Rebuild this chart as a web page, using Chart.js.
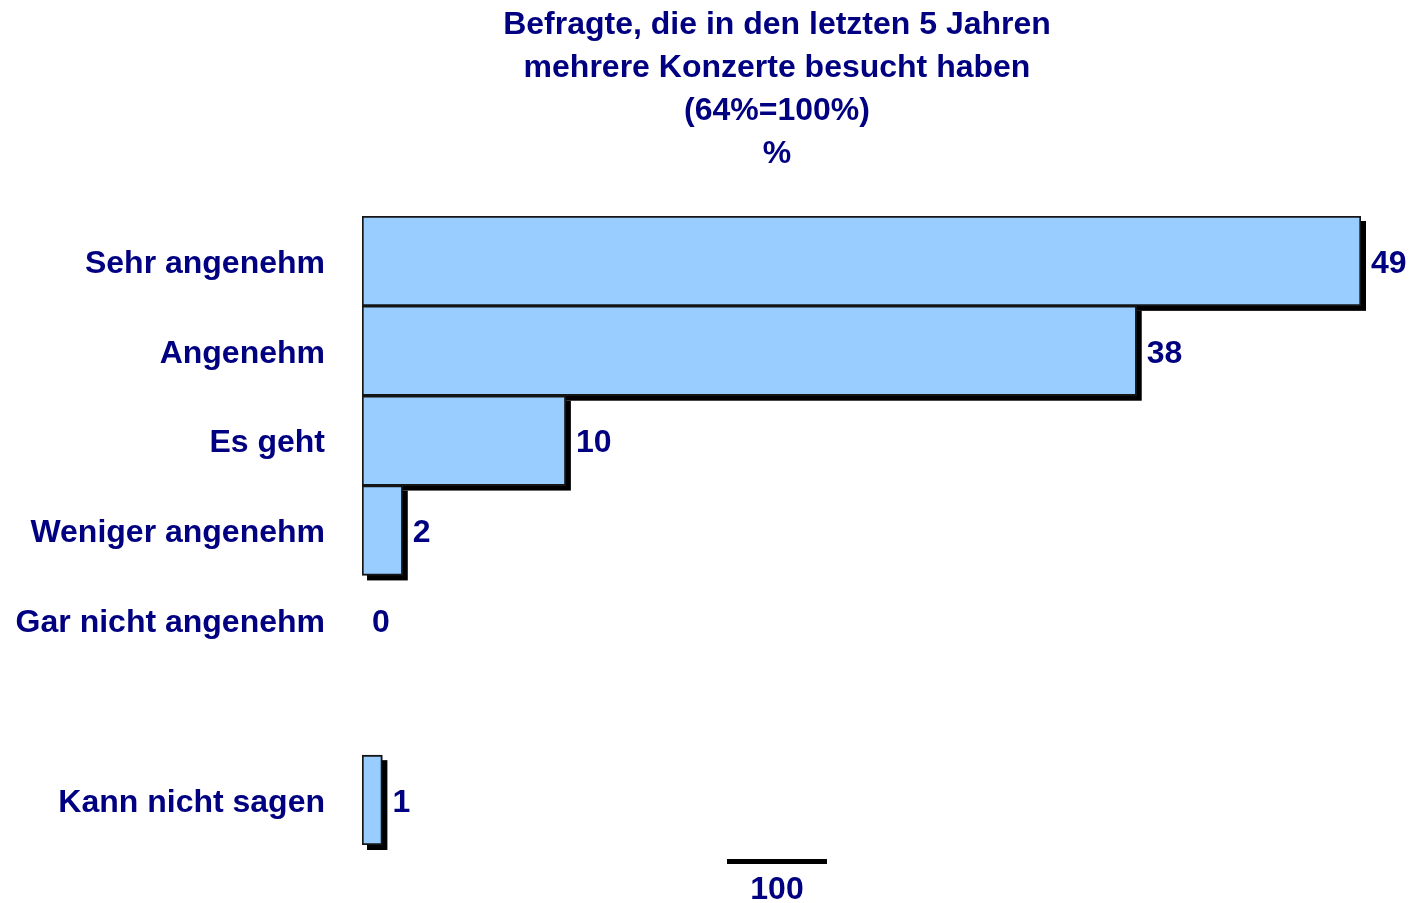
<!DOCTYPE html>
<html>
<head>
<meta charset="utf-8">
<script src="https://cdn.jsdelivr.net/npm/chart.js@4.4.1/dist/chart.umd.min.js"></script>
<style>
  html, body { margin: 0; padding: 0; background: #ffffff; }
  #wrap { width: 1414px; height: 903px; }
</style>
</head>
<body>
<div id="wrap"><canvas id="chart" width="1414" height="903"></canvas></div>
<script>
// Survey answers (percent), blank row separates "Kann nicht sagen"
const categories = ['Sehr angenehm', 'Angenehm', 'Es geht', 'Weniger angenehm', 'Gar nicht angenehm', '', 'Kann nicht sagen'];
const values = [49, 38, 10, 2, 0, null, 1];
const titleLines = ['Befragte, die in den letzten 5 Jahren', 'mehrere Konzerte besucht haben', '(64%=100%)', '%'];
const baseLabel = '100';

const NAVY = '#000080';
const FONT = '"Liberation Sans", Arial, sans-serif';

// Black drop shadow behind every bar, offset down and to the right
const shadowPlugin = {
  id: 'barShadow',
  beforeDatasetsDraw(chart) {
    const ctx = chart.ctx;
    const meta = chart.getDatasetMeta(0);
    ctx.save();
    ctx.fillStyle = '#000000';
    meta.data.forEach((bar, i) => {
      const v = values[i];
      if (v === null || v === 0) return;
      const p = bar.getProps(['x', 'y', 'base', 'height'], true);
      ctx.fillRect(p.base + 5, p.y - p.height / 2 + 5, p.x - p.base, p.height);
    });
    ctx.restore();
  }
};

// Value labels next to each bar, title block and the "100" base marker
const textPlugin = {
  id: 'texts',
  afterDatasetsDraw(chart) {
    const ctx = chart.ctx;
    const meta = chart.getDatasetMeta(0);
    ctx.save();
    ctx.fillStyle = NAVY;
    ctx.font = 'bold 32px ' + FONT;
    ctx.textAlign = 'left';
    ctx.textBaseline = 'middle';
    meta.data.forEach((bar, i) => {
      const v = values[i];
      if (v === null) return;
      ctx.fillText(String(v), bar.x + 10, bar.y + 3);
    });

    const cx = 777;
    ctx.textAlign = 'center';
    ctx.textBaseline = 'alphabetic';
    titleLines.forEach((line, i) => {
      ctx.fillText(line, cx, 34 + i * 43);
    });

    ctx.fillStyle = '#000000';
    ctx.fillRect(cx - 50, chart.chartArea.bottom + 14, 100, 5);
    ctx.fillStyle = NAVY;
    ctx.fillText(baseLabel, cx, 899);
    ctx.restore();
  }
};

new Chart(document.getElementById('chart'), {
  type: 'bar',
  data: {
    labels: categories,
    datasets: [{
      data: values,
      backgroundColor: (c) => (c.raw ? '#99CCFF' : 'rgba(0,0,0,0)'),
      borderColor: '#151515',
      borderWidth: (c) => (c.raw ? 2 : 0),
      borderSkipped: false,
      categoryPercentage: 1,
      barPercentage: 1
    }]
  },
  options: {
    indexAxis: 'y',
    responsive: false,
    animation: false,
    layout: { padding: { top: 216, right: 53, bottom: 58, left: 0 } },
    plugins: {
      legend: { display: false },
      tooltip: { enabled: false },
      title: { display: false }
    },
    scales: {
      x: {
        display: false,
        min: 0,
        max: 49
      },
      y: {
        afterFit(scale) { scale.width = 362; },
        grid: { display: false, drawTicks: false },
        border: { display: false },
        ticks: {
          color: NAVY,
          font: { family: FONT, size: 32, weight: 'bold' },
          padding: 37,
          labelOffset: 3,
          autoSkip: false
        }
      }
    }
  },
  plugins: [shadowPlugin, textPlugin]
});
</script>
</body>
</html>
